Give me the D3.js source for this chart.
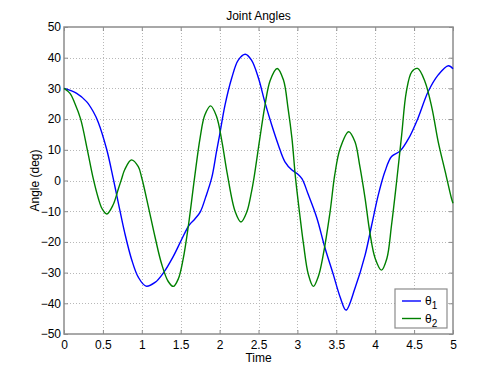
<!DOCTYPE html>
<html>
<head>
<meta charset="utf-8">
<script src="https://cdn.jsdelivr.net/npm/d3@7"></script>
<style>
  body { margin: 0; background: #fff; }
  svg { display: block; font-family: "Liberation Sans", Arial, sans-serif; }
</style>
</head>
<body>
<script>
// theta1 samples: [time, angle]
const theta1 = [
  [0, 30], [0.163, 28.4], [0.29, 25.7], [0.377, 22.4], [0.44, 19], [0.55, 10], [0.634, 0.5],
  [0.7, -7.5], [0.78, -17], [0.87, -25.8], [0.955, -31.5], [1.054, -34.4], [1.17, -33.2],
  [1.28, -30], [1.405, -24.7], [1.51, -19.3], [1.61, -14.5], [1.68, -12.6], [1.75, -10.3],
  [1.82, -5.5], [1.9, 1], [1.96, 9.4], [2.0, 14.8], [2.07, 24.6], [2.155, 33.3], [2.24, 39.2],
  [2.33, 41.1], [2.41, 39.2], [2.5, 33.3], [2.58, 25.7], [2.67, 18.1], [2.755, 11.6],
  [2.84, 6.1], [2.93, 3.4], [3.0, 2.2], [3.06, 0.5], [3.14, -4.6], [3.25, -12.2],
  [3.355, -22], [3.46, -30.5], [3.55, -38], [3.625, -42.2], [3.74, -35.1], [3.87, -24.3],
  [3.955, -14.5], [4.04, -4.7], [4.125, 2.9], [4.21, 7.8], [4.32, 9.6], [4.43, 13.7],
  [4.55, 20.3], [4.68, 28.9], [4.81, 34.4], [4.94, 37.4], [5, 36.4]
];
// theta2 samples: [time, angle]
const theta2 = [
  [0, 30], [0.077, 28.4], [0.14, 25.1], [0.214, 20], [0.3, 10], [0.377, 0.5], [0.44, -5.7],
  [0.49, -9.2], [0.55, -10.9], [0.63, -8], [0.7, -2.6], [0.74, 0.5], [0.78, 3.5], [0.865, 6.7],
  [0.955, 4.5], [1.0, 0.8], [1.084, -8.5], [1.17, -18.4], [1.255, -27.2], [1.34, -32.9],
  [1.405, -34.5], [1.47, -32], [1.53, -25.8], [1.6, -14.5], [1.675, 0.3], [1.75, 14],
  [1.81, 21.3], [1.885, 24.3], [1.96, 20.9], [2.03, 12.7], [2.1, 2], [2.2, -10.1],
  [2.275, -13.5], [2.35, -10.2], [2.41, -3.7], [2.44, 0.5], [2.52, 14.2], [2.58, 24],
  [2.65, 32.6], [2.74, 36.5], [2.82, 32.8], [2.88, 23.5], [2.93, 13.7], [2.975, 1],
  [3.03, -11], [3.08, -21], [3.14, -30.5], [3.205, -34.5], [3.27, -31.2], [3.33, -24.5],
  [3.42, -10.2], [3.48, 1.8], [3.55, 10.5], [3.66, 15.9], [3.74, 12.6], [3.8, 5],
  [3.87, -5.8], [3.93, -16.7], [4.0, -25.4], [4.08, -29.2], [4.15, -25.4], [4.21, -14.5],
  [4.275, -0.4], [4.34, 14.8], [4.4, 28.9], [4.47, 35.4], [4.545, 36.5], [4.64, 32.2],
  [4.73, 23.5], [4.81, 12.6], [4.9, 2.9], [4.98, -5.8], [5, -7.4]
];
const xTicks = [0, 0.5, 1, 1.5, 2, 2.5, 3, 3.5, 4, 4.5, 5];
const yTicks = [-50, -40, -30, -20, -10, 0, 10, 20, 30, 40, 50];
const seriesNames = ["1", "2"];
const seriesColors = ["#0000ff", "#008000"];

const width = 500, height = 375;
const margin = { left: 64, right: 47, top: 27, bottom: 41 };

const svg = d3.select("body").append("svg")
  .attr("width", width)
  .attr("height", height);

const x = d3.scaleLinear().domain([0, 5]).range([margin.left, width - margin.right]);
const y = d3.scaleLinear().domain([-50, 50]).range([height - margin.bottom, margin.top]);

// grid
const grid = svg.append("g").attr("stroke", "#b8b8b8").attr("stroke-dasharray", "1,2").attr("stroke-width", 1);
grid.selectAll(".gx").data(xTicks.slice(1, -1)).enter().append("line")
  .attr("x1", d => Math.round(x(d)) + 0.5).attr("x2", d => Math.round(x(d)) + 0.5)
  .attr("y1", y(50)).attr("y2", y(-50));
grid.selectAll(".gy").data(yTicks.slice(1, -1)).enter().append("line")
  .attr("y1", d => Math.round(y(d)) + 0.5).attr("y2", d => Math.round(y(d)) + 0.5)
  .attr("x1", x(0)).attr("x2", x(5));

// axes, ticks pointing in
const axisColor = "#8c8c8c";
const xb = svg.append("g").attr("transform", `translate(0,${y(-50)})`)
  .call(d3.axisBottom(x).tickValues(xTicks).tickSize(-4).tickPadding(6).tickFormat(d3.format("")));
const xt = svg.append("g").attr("transform", `translate(0,${y(50)})`)
  .call(d3.axisTop(x).tickValues(xTicks).tickSize(-4).tickFormat(""));
const yl = svg.append("g").attr("transform", `translate(${x(0)},0)`)
  .call(d3.axisLeft(y).tickValues(yTicks).tickSize(-4).tickPadding(3).tickFormat(d3.format("")));
const yr = svg.append("g").attr("transform", `translate(${x(5)},0)`)
  .call(d3.axisRight(y).tickValues(yTicks).tickSize(-4).tickFormat(""));
[xb, xt, yl, yr].forEach(g => {
  g.select(".domain").remove();
  g.selectAll("line").attr("stroke", axisColor);
  g.selectAll("text").attr("fill", "#000").attr("font-size", 12);
});
svg.append("rect")
  .attr("x", x(0)).attr("y", y(50))
  .attr("width", x(5) - x(0)).attr("height", y(-50) - y(50))
  .attr("fill", "none").attr("stroke", axisColor).attr("stroke-width", 1.5);

// lines
const line = d3.line().x(d => x(d[0])).y(d => y(d[1])).curve(d3.curveCatmullRom.alpha(0.5));
[theta1, theta2].forEach((s, i) => {
  svg.append("path").datum(s)
    .attr("fill", "none").attr("stroke", seriesColors[i]).attr("stroke-width", 1.4)
    .attr("d", line);
});

// titles
svg.append("text").attr("x", (x(0) + x(5)) / 2).attr("y", 20)
  .attr("text-anchor", "middle").attr("font-size", 12).text("Joint Angles");
svg.append("text").attr("x", (x(0) + x(5)) / 2).attr("y", 362)
  .attr("text-anchor", "middle").attr("font-size", 12).text("Time");
svg.append("text").attr("transform", `translate(39,${(y(50) + y(-50)) / 2}) rotate(-90)`)
  .attr("text-anchor", "middle").attr("font-size", 12).text("Angle (deg)");

// legend
const lg = svg.append("g").attr("transform", "translate(395,289)");
lg.append("rect").attr("width", 52).attr("height", 39)
  .attr("fill", "#fff").attr("stroke", axisColor).attr("stroke-width", 1.2);
seriesNames.forEach((n, i) => {
  const yy = 12 + i * 17.5;
  lg.append("line").attr("x1", 7).attr("x2", 26).attr("y1", yy).attr("y2", yy)
    .attr("stroke", seriesColors[i]).attr("stroke-width", 1.4);
  const t = lg.append("text").attr("x", 30).attr("y", yy + 4).attr("font-size", 12);
  t.append("tspan").text("\u03b8");
  t.append("tspan").attr("dy", 4).attr("font-size", 10).text(n);
});
</script>
</body>
</html>
